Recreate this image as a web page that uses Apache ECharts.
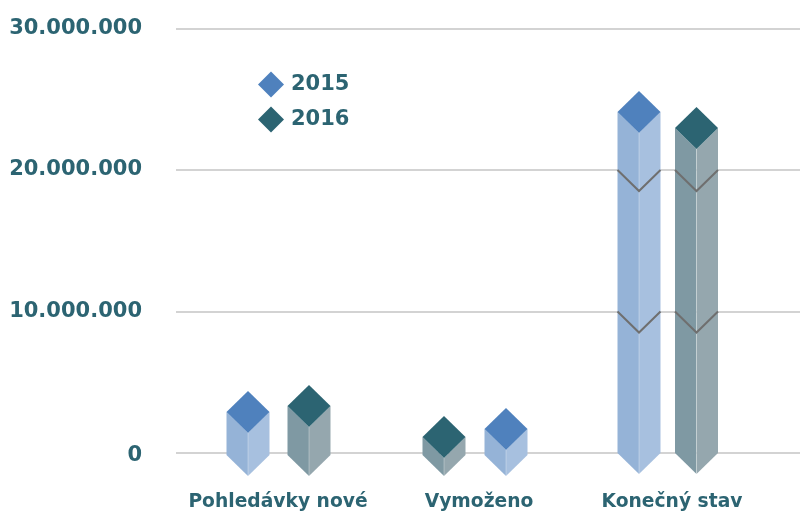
<!DOCTYPE html>
<html><head><meta charset="utf-8">
<style>html,body{margin:0;padding:0;background:#fff}#c{width:801px;height:514px}</style>
<script src="https://cdn.jsdelivr.net/npm/echarts@6/dist/echarts.min.js"></script>
</head><body><div id="c"></div>
<script>
const categories = ['Pohledávky nové', 'Vymoženo', 'Konečný stav'];
const values2015 = [2900000, 1700000, 24100000];
const values2016 = [3320000, 1130000, 22970000];
const yTicks = [0, 10000000, 20000000, 30000000];

const INK = '#2C6472';
const FONT = '"DejaVu Sans", sans-serif';
const HW = 21.5, HH = 21;

function fmt(v){
  if (v === 0) return '{z|0}';
  return String(v).replace(/\B(?=(\d{3})+$)/g, '.');
}

function prism(colors, offsets, drops){
  return function(params, api){
    const i = api.value(0), v = api.value(1);
    const cx = api.coord([i, 0])[0] + offsets[i];
    const y0 = api.coord([i, 0])[1] + drops[i];
    const yv = api.coord([i, v])[1];
    const kids = [];
    const poly = (pts, fill, z2) => kids.push({type:'polygon', z2: z2 || 0, shape:{points:pts}, style:{fill: fill}, silent:true});
    poly([[cx-HW,yv],[cx,yv+HH],[cx,y0+HH],[cx-HW,y0]], colors.left, 1);
    poly([[cx+HW,yv],[cx,yv+HH],[cx,y0+HH],[cx+HW,y0]], colors.right, 1);
    kids.push({type:'line', z2:2, shape:{x1:cx,y1:yv+HH,x2:cx,y2:y0+HH}, style:{stroke:'rgba(255,255,255,0.3)', lineWidth:1}, silent:true});
    yTicks.forEach(t => {
      if (t > 0 && t < v) {
        const y = api.coord([i, t])[1];
        kids.push({type:'polyline', z2:3, shape:{points:[[cx-HW,y],[cx,y+HH],[cx+HW,y]]},
          style:{stroke:'#6F6F6F', lineWidth:2, fill:'none'}, silent:true});
      }
    });
    poly([[cx,yv-HH],[cx+HW,yv],[cx,yv+HH],[cx-HW,yv]], colors.top, 4);
    return {type:'group', children:kids};
  };
}

const blue = {top:'#4F81BD', left:'#95B3D7', right:'#A7C0DF'};
const dark = {top:'#2C6472', left:'#7F99A3', right:'#95A7AE'};
const labelText = {color:INK, fontFamily:FONT, fontWeight:'bold', fontSize:18.7};

const chart = echarts.init(document.getElementById('c'), null, {renderer:'canvas'});
chart.setOption({
  animation:false,
  backgroundColor:'#fff',
  legend:{
    orient:'vertical', left:258, top:71.5, padding:0, itemWidth:26, itemHeight:26, itemGap:9,
    data:[{name:'2015', icon:'diamond'},{name:'2016', icon:'diamond'}],
    textStyle:{color:INK, fontFamily:FONT, fontWeight:'bold', fontSize:21, padding:[1,0,0,2]},
    selectedMode:false
  },
  grid:[
    {left:176, right:1, top:28.5, bottom:61},
    {left:179.5, right:30.5, top:28.5, bottom:61}
  ],
  xAxis:[
    {gridIndex:0, type:'value', show:false},
    {gridIndex:1, type:'category', data:categories,
      axisLine:{show:false}, axisTick:{show:false},
      axisLabel:Object.assign({margin:40, interval:0,
        formatter:(v,i)=> i===1 ? '{s|'+v+'}' : v,
        rich:{s:Object.assign({padding:[0,0,0,8]}, labelText)}}, labelText)}
  ],
  yAxis:[
    {gridIndex:0, type:'value', min:0, max:30000000, interval:10000000,
      axisLine:{show:false}, axisTick:{show:false},
      axisLabel:{margin:34, color:INK, fontFamily:FONT, fontWeight:'bold', fontSize:21, formatter:fmt,
        rich:{z:{color:INK, fontFamily:FONT, fontWeight:'bold', fontSize:21, padding:[6,0,0,0]}}},
      splitLine:{show:true, lineStyle:{color:'#C4C4C4', width:1.5}}},
    {gridIndex:1, type:'value', min:0, max:30000000, interval:10000000, show:false, splitLine:{show:false}}
  ],
  series:[
    {name:'2015', type:'custom', xAxisIndex:1, yAxisIndex:1, clip:false, itemStyle:{color:blue.top},
      encode:{x:0,y:1}, data:values2015.map((v,i)=>[i,v]), renderItem:prism(blue,[-30,31,-33],[2,2,0])},
    {name:'2016', type:'custom', xAxisIndex:1, yAxisIndex:1, clip:false, itemStyle:{color:dark.top},
      encode:{x:0,y:1}, data:values2016.map((v,i)=>[i,v]), renderItem:prism(dark,[31,-31,24.5],[2,2,0])}
  ]
});
</script></body></html>
